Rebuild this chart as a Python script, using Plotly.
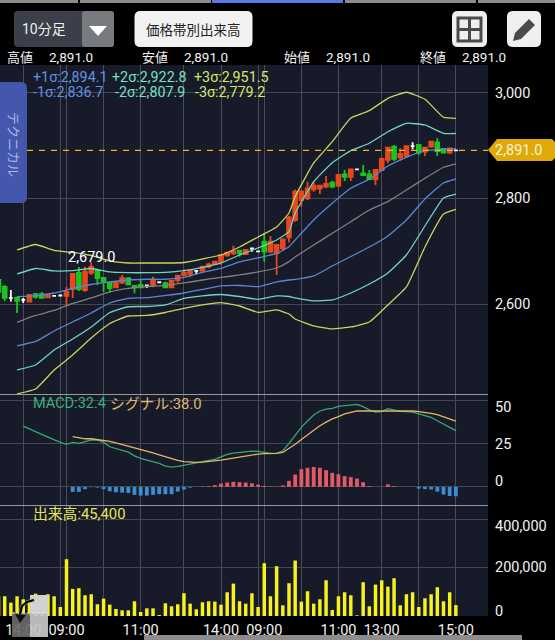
import plotly.graph_objects as go

W, H = 555, 640
FONT = "Roboto, 'Noto Sans CJK JP', sans-serif"

# ---------- candles: index, open, high, low, close ----------
idx_red = [4,7,10,11,13,14,18,19,24,27,28,29,30,32,33,34,35,36,37,39,43,44,45,46,47,48,49,50,51,52,54,56,60,61,62,64,65,68,69,72]
open_red = [2604.6,2613,2615.4,2628.6,2626.7,2658.9,2631.8,2640.5,2636.2,2631.8,2645.6,2655.1,2657,2662.7,2670.8,2675.9,2680.3,2692.2,2696.2,2694.8,2699.2,2696.2,2705.6,2726.3,2759,2796.9,2800.2,2817.3,2819,2822.2,2824,2841,2836.2,2853.7,2872.7,2877.8,2880,2888.4,2897.8,2886.5]
high_red = [2618,2618.6,2632.4,2658.9,2670.8,2679,2642.4,2655,2651.9,2644.5,2655.1,2665.9,2664,2671.5,2678.4,2682.2,2694.8,2699,2710.4,2703,2728.9,2712,2723,2767.3,2817,2815.9,2831.6,2831.6,2825.4,2842.4,2845,2855.5,2854,2877.4,2896.5,2895,2899.5,2897,2908.6,2896]
low_red = [2604,2611,2596.4,2611.6,2623.5,2655,2630,2638,2631.8,2630,2640.5,2653,2650.9,2662,2667.8,2674,2674,2689.7,2693,2694,2696.2,2655.1,2701,2716.6,2756,2784.3,2796.9,2812.7,2808.3,2819,2821,2833,2825.4,2853,2866.4,2870.8,2877,2880,2897,2884]
close_red = [2617.3,2616.7,2623,2657,2661.3,2670.2,2640.5,2648.9,2643.7,2643.7,2653.8,2658.9,2663.2,2670.8,2675.3,2680.3,2693,2697.3,2699.2,2702.4,2718,2711.9,2722.6,2764.2,2812.6,2812.6,2819,2824,2824,2827.3,2844.3,2855,2853.7,2874.6,2896,2884,2899,2896,2907.3,2894.8]

idx_green = [-1,0,2,5,6,12,15,16,17,20,21,22,26,38,42,53,55,58,59,63,67,70,71]
open_green = [2645.6,2632.4,2612,2619,2618.6,2658.9,2662.7,2649.4,2640,2648.9,2634.3,2636.2,2639.4,2701,2718,2829.8,2845.6,2847.5,2845.6,2897.9,2901,2906,2893.5]
high_green = [2647,2636,2613,2621,2623,2670.2,2664.6,2649.4,2640.5,2650,2636.2,2647.5,2642.4,2702.4,2735,2833.6,2853.7,2863,2853.7,2901,2903,2913.7,2895]
low_green = [2621,2606,2583.2,2610,2610,2624.8,2636.2,2623.5,2621.6,2636,2620.5,2631.5,2631,2689.7,2680.3,2819,2833,2842.4,2834.8,2870.8,2882,2880,2885]
close_green = [2623,2611.6,2606,2613.5,2612,2628.6,2649.4,2641.9,2630.5,2637.5,2631.8,2631.8,2631.8,2696.2,2699.2,2822.2,2841,2844.3,2836.7,2874.6,2886.5,2889.7,2886.5]

idx_white = [1,3,8,9,23,25,31,40,41,57,66,73]
mid_white = [2611.6,2608,2615.4,2616.3,2635.2,2641.3,2662.7,2705.2,2699.9,2855,2899,2891]
high_white = [2626.7,2611.6,2616,2617,2636.2,2642,2664.6,2706.2,2700.5,2855.7,2906,2891.7]
low_white = [2605,2602,2614.7,2615.6,2630.5,2640.6,2656.5,2699.2,2699.2,2854.3,2893,2890.3]

# ---------- bollinger bands ----------
band_idx = [2,5,8,11,14,17,20,23,26,29,32,35,38,41,44,46,47,50,53,56,59,62,65,68,71,73]
band_p3 = [2702.4,2712.8,2701.5,2697.7,2692,2681.6,2677.8,2677.8,2677.8,2678.7,2685.4,2692.9,2708.1,2727,2745.9,2772.4,2803.2,2867,2907.3,2952.1,2966,2989.4,3000.8,2987.5,2953.5,2951.5]
band_p2 = [2657,2667.4,2662.7,2663.2,2667.4,2660.8,2659.4,2659.4,2660.2,2663.2,2669.3,2677.8,2692.9,2706.2,2721.3,2737,2772.4,2831.6,2867.6,2890.3,2904.3,2926.2,2942.1,2938.9,2923.2,2922.8]
band_p1 = [2614,2615.9,2621,2629.6,2637.1,2641.9,2645.6,2647,2647,2650.4,2659.8,2667.4,2679.7,2687.3,2695.8,2708.6,2721.3,2759.2,2790.8,2819.1,2836.2,2861.3,2877.8,2890.3,2892.9,2894.1]
band_mid = [2565.6,2578.5,2587.9,2601.2,2611.6,2622.9,2629.6,2633.3,2635.6,2640,2645.6,2650.4,2655.1,2660.8,2668.3,2680.3,2689.2,2711.9,2734,2755.9,2778.1,2793.8,2815.9,2838,2858.9,2865.4]
band_m1 = [2520.8,2529.3,2549.1,2566.2,2583.2,2602.1,2611,2612.1,2616.3,2621,2627.7,2634.3,2635.2,2633,2641.9,2645.6,2646.6,2653.2,2672.1,2690.1,2708,2728.9,2759.2,2798.9,2829.2,2836.7]
band_m2 = [2475.4,2484.8,2513.2,2534,2556.7,2584.1,2595,2595.5,2598.4,2610.6,2615.4,2618.2,2614.4,2609.1,2615.4,2614.4,2611.6,2606,2607.8,2621,2638,2658.9,2692.9,2747.8,2800.8,2807.9]
band_m3 = [2430,2439.4,2475.4,2503.7,2535.9,2563.3,2577.5,2578.5,2584.1,2592.1,2598.4,2602.7,2596.4,2584.5,2588.9,2581.3,2571.9,2558.6,2553,2556.7,2566.2,2598.4,2632.4,2708.1,2770.5,2779.2]

# ---------- MACD ----------
macd_start = 3
macd_vals = [35.0,33.3,31.8,30.2,28.7,27.1,25.6,24.5,25.6,25.0,26.0,27.1,27.0,25.6,23.1,22.0,21.2,20.0,17.9,16.4,15.4,14.6,13.5,12.0,11.4,11.8,12.3,13.1,13.9,14.5,15.0,15.8,17.3,18.7,19.5,20.0,20.4,20.6,20.4,19.8,19.3,19.3,
             20.8,25.0,29.8,34.3,37.9,41.4,43.7,44.8,45.2,46.4,46.8,47.3,47.5,46.2,44.3,43.1,43.3,45.0,44.3,43.5,43.3,43.1,42.0,40.8,40.0,38.1,36.0,34.3,32.4]
signal_start = 11
signal_vals = [28.9,28.1,27.7,27.7,27.3,27.0,26.2,25.4,24.5,23.5,22.5,21.6,20.6,19.6,18.5,17.3,16.2,15.2,14.5,14.1,14.1,14.3,14.6,15.0,15.4,16.0,16.6,17.1,17.9,18.5,18.9,19.1,19.1,19.3,
               19.8,22.0,24.5,27.3,30.0,32.7,35.2,37.3,39.1,40.4,42.0,42.9,43.7,43.7,43.7,43.7,43.9,43.9,43.7,43.7,43.7,43.7,43.3,42.9,42.3,41.6,40.4,39.1,37.9]
hist_start = 11
hist_vals = [-2.9,-2.9,-1.3,-0.2,-0.4,-1.3,-2.5,-3.1,-3.3,-3.5,-4.6,-5.0,-5.0,-4.6,-4.2,-4.2,-4.2,-2.7,-1.5,-0.4,0,0.2,0.4,1.0,1.9,2.5,2.9,2.7,2.5,2.1,1.3,0.6,0.2,0.1,
             0.8,3.5,7.1,10.2,11.0,11.5,11.0,9.6,8.1,7.3,6.2,5.6,4.8,2.7,0.4,0,0,1.5,0.4,0,0,0,-1.0,-1.3,-1.5,-2.7,-4.4,-5.2,-5.4]

# ---------- volume ----------
vol_start = -1
vol_vals = [82000,82000,55600,82000,69500,65300,93100,86200,90400,82000,37500,236300,112600,115400,86200,90400,48700,72300,47300,29200,23600,23600,61200,16700,32000,32000,4200,52800,40300,48700,94500,51400,27800,57000,61200,59800,47300,98700,134800,61200,51400,94500,37500,219600,82000,207100,44500,136200,230700,59800,102900,51400,69500,148700,25000,82000,98700,86200,2800,140400,40300,130700,148700,122300,157100,44500,90400,98700,37500,73700,90400,119500,61200,98700,45400]

# ---------- ticks and texts ----------
grid_idx = [3,9,10,16,22,29,35,41,42,48,54,61,67,73]
grid_lbl = ["14:00","","09:00","","11:00","","14:00","","09:00","","11:00","13:00","","15:00"]
price_ticks = [2600,2800,3000]
price_lbls = ["2,600","2,800","3,000"]
macd_ticks = [0,25,50]
vol_ticks = [0,200000,400000]
vol_lbls = ["0","200,000","400,000"]
last_price = 2891
high_label_idx = 14
high_label_val = 2679
header_items = [("高値",6,"2,891.0",48),("安値",141,"2,891.0",183),("始値",283,"2,891.0",325),("終値",419,"2,891.0",461)]
sigma_items = [("+1σ:2,894.1",32,77,"#5f92e6"),("+2σ:2,922.8",111,77,"#74e0c4"),("+3σ:2,951.5",193,77,"#d4e864"),
               ("-1σ:2,836.7",32,92,"#5f92e6"),("-2σ:2,807.9",114,92,"#74e0c4"),("-3σ:2,779.2",194,92,"#d4e864")]

# ---------- helpers for page furniture ----------
PX = lambda x: x / W
PY = lambda y: 1 - y / H
RIGHT = 488 / W

def path(points, close=True):
    s = "M" + " L".join(f"{PX(x):.5f},{PY(y):.5f}" for x, y in points)
    return s + (" Z" if close else "")

def rrect(x0, y0, x1, y1, r):
    p = [(x0+r,y0),(x1-r,y0),(x1,y0),(x1,y0+r),(x1,y1-r),(x1,y1),(x1-r,y1),(x0+r,y1),(x0,y1),(x0,y1-r),(x0,y0+r),(x0,y0)]
    f = lambda q: f"{PX(q[0]):.5f},{PY(q[1]):.5f}"
    return (f"M{f(p[0])} L{f(p[1])} Q{f(p[2])} {f(p[3])} L{f(p[4])} Q{f(p[5])} {f(p[6])} "
            f"L{f(p[7])} Q{f(p[8])} {f(p[9])} L{f(p[10])} Q{f(p[11])} {f(p[0])} Z")

shapes, annos = [], []

def add_path(d, fill="rgba(0,0,0,0)", line="rgba(0,0,0,0)", width=0, opacity=1, dash=None):
    shapes.append(dict(type="path", xref="paper", yref="paper", path=d, fillcolor=fill, opacity=opacity,
                       line=dict(color=line, width=width, dash=dash or "solid")))

def add_text(t, x, y, color="#ffffff", size=14, anchor="left", angle=0):
    annos.append(dict(text=t, x=PX(x), y=PY(y), xref="paper", yref="paper", xanchor=anchor, yanchor="middle",
                      showarrow=False, textangle=angle, borderpad=0, font=dict(family=FONT, size=size, color=color)))

# last price dashed line (starts right of the tab)
shapes.append(dict(type="line", xref="paper", yref="y", x0=PX(27), x1=RIGHT, y0=last_price, y1=last_price,
                   line=dict(color="#efb42a", width=1.2, dash="6px,6px")))

# top strip
for a, b, c in [(0,78,"#8c8c8c"),(80,211,"#8c8c8c"),(212,343,"#5b78e8"),(345,476,"#8c8c8c"),(478,555,"#8c8c8c")]:
    add_path(path([(a,0),(b,0),(b,3),(a,3)]), fill=c)
# dropdown
add_path(rrect(14,11,114,47,4), fill="#3b3f49")
add_path(rrect(82,11,114,47,3), fill="#777b80")
add_path(path([(89,26),(107,26),(98,36)]), fill="#ffffff")
add_text("10分足", 21, 29, "#f0f0f0", 14)
# volume-by-price button
add_path(rrect(134.5,11,252.5,47,6), fill="#f2f2f2")
add_text("価格帯別出来高", 193.5, 29.5, "#222222", 13.5, anchor="center")
# grid icon
add_path(rrect(452,11,487,47,6), fill="#efefef")
add_path(path([(458,18),(481,18),(481,41),(458,41)]), line="#4a4a4a", width=3)
add_path(path([(469.5,18),(469.5,41)], False), line="#4a4a4a", width=3)
add_path(path([(458,29.5),(481,29.5)], False), line="#4a4a4a", width=3)
# pencil icon
add_path(rrect(507,11,541,47,6), fill="#efefef")
add_path(path([(513,41),(515,33),(529,19),(535,25),(521,39)]), fill="#4a4a4a")
# left tab
add_path(rrect(-6,82,27,203,6), fill="#4557ad")
add_text("テクニカル", 14, 144, "#a9b8ea", 13, anchor="center", angle=90)

# price tag
add_path(path([(488,150),(497,139),(552,139),(555,142),(555,158),(552,161),(497,161)]), fill="#dfaa08")
add_text("2,891.0", 494, 150.5, "#f7f2da", 14.5)

# separators
for yy in (394.5, 505.5):
    shapes.append(dict(type="line", xref="paper", yref="paper", x0=0, x1=RIGHT, y0=PY(yy), y1=PY(yy),
                       line=dict(color="#9a9a9a", width=1)))
# bottom strip
add_path(path([(144,635),(522,635),(522,640),(144,640)]), fill="#8c8c8c")

# header
for lbl, x0, val, x1 in header_items:
    add_text(lbl, x0, 57, "#f2f2f2", 13)
    add_text(val, x1, 57, "#f2f2f2", 13.5)
for t, x, y, c in sigma_items:
    add_text(t, x, y, c, 14.3)
add_text("MACD:32.4", 32, 403.5, "#3bb27a", 14.5)
add_text("シグナル:38.0", 109, 403.5, "#e0b868", 14.8)
add_text("出来高:45,400", 32, 513.5, "#e8e650", 14.8)

# gesture icon
add_path(path([(12,613),(30,613),(30,637),(12,637)]), fill="#6a6a6a", opacity=0.92)
add_path(path([(30,595),(48,595),(48,613),(30,613)]), fill="#d2d2d2")
add_path(path([(30,613),(48,613),(48,637),(30,637)]), fill="#c8c8c8", opacity=0.92)
add_path(path([(12,613),(48,613)], False), line="#eeeeee", width=1, dash="3px,2px")
add_path(path([(34,600),(27,602),(22,606),(20,614)], False), line="#bbbbbb", width=3.6, opacity=0.6)
add_path(path([(34,600),(27,602),(22,606),(20,614)], False), line="#000000", width=2.2)
add_path(path([(15,614),(26,615),(20,623)]), fill="#111111")

# ---------- traces ----------
fig = go.Figure()

def candle(x, o, h, l, c, col):
    s = dict(line=dict(color=col, width=1.8), fillcolor=col)
    fig.add_trace(go.Candlestick(x=x, open=o, high=h, low=l, close=c, increasing=s, decreasing=s,
                                 whiskerwidth=0, xaxis="x", yaxis="y", showlegend=False, hoverinfo="skip"))

for vals, col in [(band_p3,"#c6d85c"),(band_p2,"#70d6bf"),(band_p1,"#5b86d6"),(band_mid,"#808080"),
                  (band_m1,"#5b86d6"),(band_m2,"#70d6bf"),(band_m3,"#c6d85c")]:
    fig.add_trace(go.Scatter(x=band_idx, y=vals, mode="lines", xaxis="x", yaxis="y", showlegend=False,
                             line=dict(color=col, width=1.3, shape="spline", smoothing=0.4), hoverinfo="skip"))

candle(idx_red, open_red, high_red, low_red, close_red, "#e8481c")
candle(idx_green, open_green, high_green, low_green, close_green, "#1cc41e")
candle(idx_white, mid_white, high_white, low_white, mid_white, "#ffffff")

hist_x = [hist_start + k for k in range(len(hist_vals))]
fig.add_trace(go.Bar(x=hist_x, y=hist_vals, width=0.62, xaxis="x2", yaxis="y2", showlegend=False, hoverinfo="skip",
                     marker=dict(color=["#e05a68" if v > 0 else "#3a8fd2" for v in hist_vals], line=dict(width=0))))
fig.add_trace(go.Scatter(x=[macd_start + k for k in range(len(macd_vals))], y=macd_vals, mode="lines", xaxis="x2", yaxis="y2",
                         showlegend=False, line=dict(color="#35a873", width=1.3), hoverinfo="skip"))
fig.add_trace(go.Scatter(x=[signal_start + k for k in range(len(signal_vals))], y=signal_vals, mode="lines", xaxis="x2", yaxis="y2",
                         showlegend=False, line=dict(color="#e0b868", width=1.3), hoverinfo="skip"))

fig.add_trace(go.Bar(x=[vol_start + k for k in range(len(vol_vals))], y=vol_vals, width=0.56, xaxis="x3", yaxis="y3",
                     showlegend=False, hoverinfo="skip", marker=dict(color="#f6f21e", line=dict(width=0))))

# price high label
annos.append(dict(text="2,679.0", x=high_label_idx, y=high_label_val, xref="x", yref="y", xanchor="center", yanchor="bottom",
                  yshift=-5, showarrow=False, borderpad=0, font=dict(family=FONT, size=14.5, color="#ffffff")))
# right-hand labels of the lower panels
for v, sh in zip(macd_ticks, (5, -1, -7)):
    annos.append(dict(text=str(v), x=494/W, y=v, xref="paper", yref="y2", xanchor="left", yanchor="middle", yshift=sh,
                      showarrow=False, borderpad=0, font=dict(family=FONT, size=14.5, color="#f2f2f2")))
for v, t, sh in zip(vol_ticks, vol_lbls, (5, 0, -7)):
    annos.append(dict(text=t, x=494/W, y=v, xref="paper", yref="y3", xanchor="left", yanchor="middle", yshift=sh,
                      showarrow=False, borderpad=0, font=dict(family=FONT, size=14.5, color="#f2f2f2")))

GRIDV = "#484c5a"
GRIDH = "#444754"
xbase = dict(range=[-0.76, 78.2], domain=[0, RIGHT], tickmode="array", tickvals=grid_idx, showgrid=True, gridcolor=GRIDV,
             gridwidth=1, zeroline=False, showline=False, rangeslider=dict(visible=False), fixedrange=True)
ybase = dict(side="right", showgrid=True, gridcolor=GRIDH, gridwidth=1, zeroline=False, showline=False, tickmode="array", fixedrange=True)

fig.update_layout(
    width=W, height=H, autosize=False, margin=dict(l=0, r=0, t=0, b=0), showlegend=False, boxgap=0.12,
    paper_bgcolor="#000000", plot_bgcolor="#171a29", shapes=shapes, annotations=annos, barmode="overlay",
    xaxis=dict(**xbase, anchor="y", showticklabels=False),
    xaxis2=dict(**xbase, anchor="y2", showticklabels=False),
    xaxis3=dict(**xbase, anchor="y3", showticklabels=True, ticktext=grid_lbl, ticks="", tickangle=0, ticklabelstandoff=3,
                tickfont=dict(family=FONT, size=14.5, color="#f2f2f2")),
    yaxis=dict(**ybase, domain=[PY(395), PY(65)], range=[2428, 3052.4], anchor="x", tickvals=price_ticks, ticktext=price_lbls,
               ticks="outside", ticklen=3, tickcolor="rgba(0,0,0,0)", tickfont=dict(family=FONT, size=14.5, color="#f2f2f2")),
    yaxis2=dict(**ybase, domain=[PY(506), PY(395)], range=[-11.0, 52.9], anchor="x2", tickvals=macd_ticks, showticklabels=False),
    yaxis3=dict(**ybase, domain=[PY(616), PY(506)], range=[0, 457500], anchor="x3", tickvals=vol_ticks, showticklabels=False),
)

fig.write_html("out.html", config=dict(displayModeBar=False, staticPlot=True),
               post_script="document.body.style.margin='0';document.body.style.background='#000';")
